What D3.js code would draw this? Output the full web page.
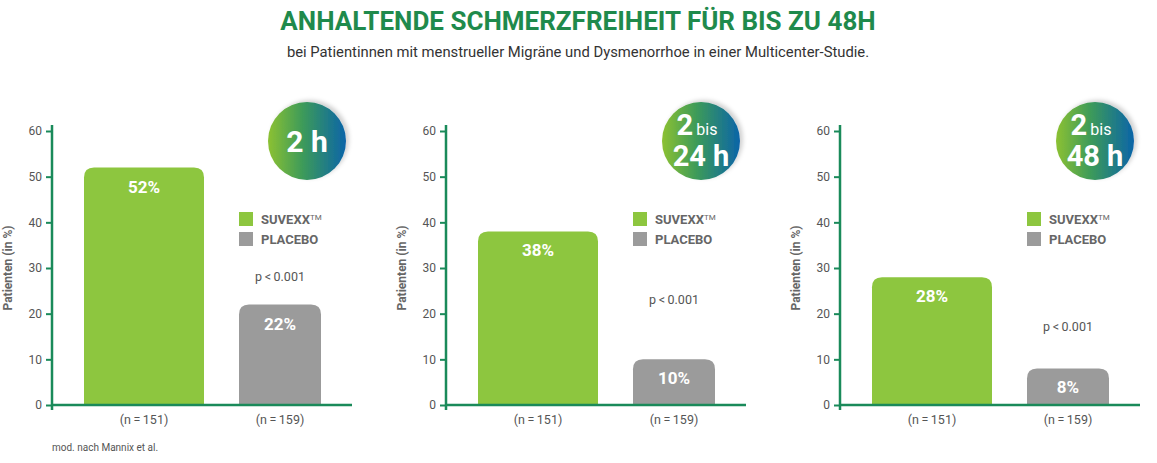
<!DOCTYPE html><html><head><meta charset="utf-8">
<script src="https://cdn.jsdelivr.net/npm/d3@7"></script>
<style>body{margin:0;background:#fff}text{font-family:Roboto,"Liberation Sans",sans-serif}</style></head><body>
<svg id="c" width="1157" height="463"></svg>
<script>
const panels = ["2h","2-24h","2-48h"];
const suvexx = [52,38,28];
const placebo = [22,10,8];
const nLabels = ["(n\u2009=\u2009151)","(n\u2009=\u2009159)"];
const yTicks = [0,10,20,30,40,50,60];
const pText = "p\u2009<\u20090.001";
const badgeMain = ["2 h","2","2"];
const badgeSub = [null,"24 h","48 h"];

const svg = d3.select("#c");
const defs = svg.append("defs");
const g = defs.append("linearGradient").attr("id","gr");
g.append("stop").attr("offset","0").attr("stop-color","#8cc132");
g.append("stop").attr("offset","0.45").attr("stop-color","#3c9a5a");
g.append("stop").attr("offset","1").attr("stop-color","#0b64a8");
const f = defs.append("filter").attr("id","sh").attr("x","-30%").attr("y","-30%").attr("width","160%").attr("height","160%");
f.append("feDropShadow").attr("dx",3).attr("dy",-2).attr("stdDeviation",2).attr("flood-color","#000").attr("flood-opacity",0.18);

svg.append("text").attr("x",578).attr("y",30).attr("text-anchor","middle").attr("font-size",26).attr("font-weight",700).attr("fill","#1f8a4c").text("ANHALTENDE SCHMERZFREIHEIT FÜR BIS ZU 48H");
svg.append("text").attr("x",578).attr("y",57).attr("text-anchor","middle").attr("font-size",14.8).attr("fill","#333").text("bei Patientinnen mit menstrueller Migräne und Dysmenorrhoe in einer Multicenter-Studie.");
svg.append("text").attr("x",52).attr("y",451).attr("font-size",10).attr("fill","#555").text("mod. nach Mannix et al.");

const y = d3.scaleLinear().domain([0,60]).range([405,131]);
const axisCol="#1a8a5a";
const pY=[277,300,327];
function topRound(x,yTop,w,h,r){return `M${x},${yTop+h}V${yTop+r}Q${x},${yTop} ${x+r},${yTop}H${x+w-r}Q${x+w},${yTop} ${x+w},${yTop+r}V${yTop+h}Z`;}

panels.forEach((p,i)=>{
  const ox = 52 + i*394;
  const G = svg.append("g");
  const xs=[[84,120],[239,82]];
  const vals=[suvexx[i],placebo[i]];
  const cols=["#8dc63f","#9b9b9b"];
  vals.forEach((v,j)=>{
    const bx = ox + xs[j][0]-52, w=xs[j][1];
    G.append("path").attr("d",topRound(bx,y(v),w,y(0)-y(v),10)).attr("fill",cols[j]);
    G.append("text").attr("x",bx+w/2).attr("y",y(v)+25).attr("text-anchor","middle").attr("font-size",17).attr("font-weight",700).attr("fill","#fff").text(v+"%");
    G.append("text").attr("x",bx+w/2).attr("y",424).attr("text-anchor","middle").attr("font-size",12.5).attr("fill","#555").text(nLabels[j]);
  });
  const ax = G.append("g").attr("transform",`translate(${ox},0)`).call(d3.axisLeft(y).tickValues(yTicks).tickSize(6).tickPadding(4));
  ax.select(".domain").remove();
  ax.selectAll("line").attr("stroke",axisCol).attr("stroke-width",2).attr("x1",-6).attr("x2",0);
  ax.selectAll("text").attr("font-size",12).attr("fill","#555").attr("font-family","Roboto,sans-serif");
  G.append("line").attr("x1",ox).attr("x2",ox).attr("y1",125).attr("y2",410).attr("stroke",axisCol).attr("stroke-width",2.5);
  G.append("line").attr("x1",ox-1).attr("x2",ox+300).attr("y1",405).attr("y2",405).attr("stroke",axisCol).attr("stroke-width",2.5);
  G.append("text").attr("transform",`translate(${ox-40},${y(30)}) rotate(-90)`).attr("text-anchor","middle").attr("font-size",12).attr("font-weight",700).attr("fill","#666").text("Patienten (in %)");
  const lx=ox+187;
  G.append("rect").attr("x",lx).attr("y",212).attr("width",14).attr("height",14).attr("fill","#8dc63f");
  G.append("rect").attr("x",lx).attr("y",232).attr("width",14).attr("height",14).attr("fill","#9b9b9b");
  const t1=G.append("text").attr("x",lx+22).attr("y",224).attr("font-size",13).attr("font-weight",700).attr("fill","#666").text("SUVEXX");
  t1.append("tspan").attr("font-size",8).attr("dy",-4).attr("font-weight",400).text("TM");
  G.append("text").attr("x",lx+22).attr("y",244).attr("font-size",13).attr("font-weight",700).attr("fill","#666").text("PLACEBO");
  G.append("text").attr("x",ox+228).attr("y",pY[i]+4).attr("text-anchor","middle").attr("font-size",12.5).attr("fill","#555").text(pText);
  const cx=ox+255, cy=141;
  G.append("circle").attr("cx",cx).attr("cy",cy).attr("r",39).attr("fill","url(#gr)").attr("filter","url(#sh)");
  if(!badgeSub[i]){
    G.append("text").attr("x",cx).attr("y",cy+11).attr("text-anchor","middle").attr("font-size",30).attr("font-weight",700).attr("fill","#fff").text(badgeMain[i]);
  } else {
    const t=G.append("text").attr("x",cx-4).attr("y",cy-6).attr("text-anchor","middle").attr("font-weight",700).attr("fill","#fff");
    t.append("tspan").attr("font-size",29).text(badgeMain[i]);
    t.append("tspan").attr("font-size",16).attr("font-weight",400).attr("dx",3).text("bis");
    G.append("text").attr("x",cx).attr("y",cy+25).attr("text-anchor","middle").attr("font-size",29).attr("font-weight",700).attr("fill","#fff").text(badgeSub[i]);
  }
});
</script></body></html>
